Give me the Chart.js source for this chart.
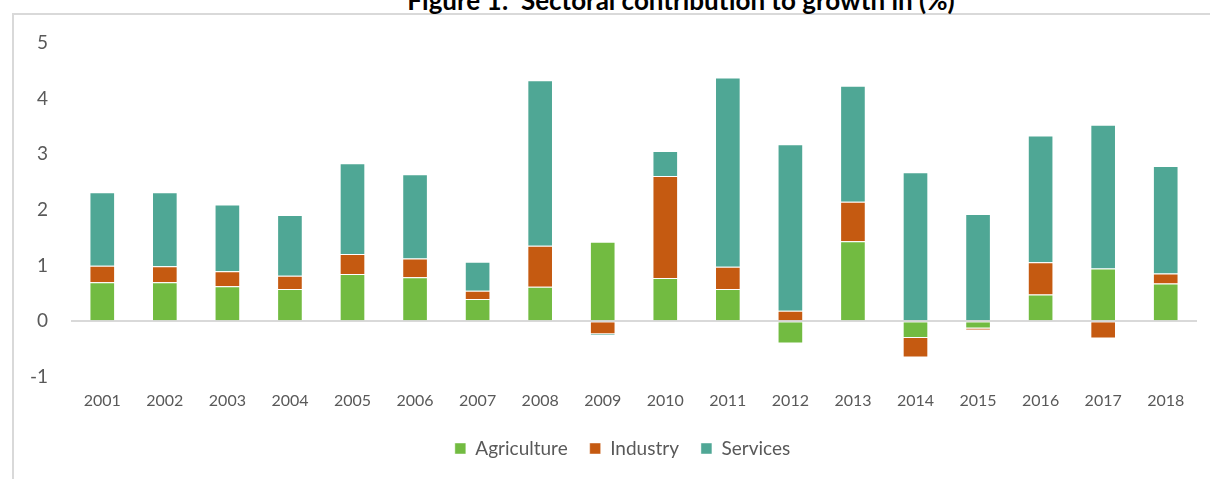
<!DOCTYPE html>
<html>
<head>
<meta charset="utf-8">
<script src="https://cdn.jsdelivr.net/npm/chart.js@4/dist/chart.umd.min.js"></script>
<style>
  html, body { margin: 0; padding: 0; background: #ffffff; }
  #wrap { position: relative; width: 1210px; height: 479px; overflow: hidden; background: #fff; }
  #frame { position: absolute; left: 12px; top: 13px; width: 1300px; height: 600px;
           border-left: 2px solid #d9d9d9; border-top: 2px solid #d9d9d9; box-sizing: border-box; }
  #title { position: absolute; left: 0; width: 1362px; top: -15px; text-align: center;
           font-family: Lato, "Open Sans", sans-serif; font-weight: bold; font-size: 26px;
           color: #000; white-space: pre; line-height: 30px; }
  #c { position: absolute; left: 0; top: 0; }
</style>
</head>
<body>
<div id="wrap">
  <div id="frame"></div>
  <div id="title">Figure 1:  Sectoral contribution to growth in (%)</div>
  <canvas id="c" width="1210" height="479"></canvas>
</div>
<script>
const years = ["2001","2002","2003","2004","2005","2006","2007","2008","2009","2010","2011","2012","2013","2014","2015","2016","2017","2018"];
const agriculture = [0.70, 0.70, 0.63, 0.58, 0.85, 0.79, 0.40, 0.62, 1.43, 0.78, 0.58, -0.40, 1.44, -0.30, -0.13, 0.48, 0.95, 0.68];
const industry    = [0.30, 0.29, 0.27, 0.24, 0.36, 0.34, 0.15, 0.74, -0.23, 1.83, 0.40, 0.19, 0.71, -0.35, -0.03, 0.58, -0.31, 0.18];
const services    = [1.32, 1.33, 1.20, 1.09, 1.63, 1.51, 0.52, 2.97, -0.03, 0.45, 3.40, 2.99, 2.08, 2.68, 1.93, 2.28, 2.58, 1.93];
const yTicks = [-1, 0, 1, 2, 3, 4, 5];

const FONT = 'Lato, "Open Sans", sans-serif';
const edge = 'rgba(255,255,255,0.45)';

const legendShift = {
  id: 'legendShift',
  afterLayout(chart) {
    if (chart.legend) { chart.legend.left += 18; chart.legend.right += 18; }
  }
};

new Chart(document.getElementById('c'), {
  type: 'bar',
  data: {
    labels: years,
    datasets: [
      { label: 'Agriculture', data: agriculture, backgroundColor: '#72bb41', borderColor: edge, borderWidth: 1 },
      { label: 'Industry',    data: industry,    backgroundColor: '#c55a11', borderColor: edge, borderWidth: 1 },
      { label: 'Services',    data: services,    backgroundColor: '#4fa795', borderColor: edge, borderWidth: 1 }
    ]
  },
  plugins: [legendShift],
  options: {
    responsive: false,
    animation: false,
    devicePixelRatio: 1,
    datasets: { bar: { categoryPercentage: 1, barPercentage: 0.41 } },
    layout: { padding: { left: 12, right: 13, top: 43, bottom: 11 } },
    plugins: {
      title: { display: false },
      tooltip: { enabled: false },
      legend: {
        position: 'bottom',
        labels: {
          font: { family: FONT, size: 19 },
          color: '#595959',
          boxWidth: 11, boxHeight: 11,
          padding: 22
        }
      }
    },
    scales: {
      x: {
        stacked: true,
        grid: { display: false },
        border: { display: false },
        afterFit: (s) => { s.height = 40; },
        ticks: { font: { family: FONT, size: 16 }, color: '#595959', padding: 6, maxRotation: 0 }
      },
      y: {
        stacked: true,
        min: -1, max: 5,
        afterBuildTicks: (s) => { s.ticks = yTicks.map(v => ({ value: v })); },
        afterFit: (s) => { s.width = 59; },
        border: { display: false },
        grid: {
          drawTicks: false,
          lineWidth: 2,
          color: (ctx) => (ctx.tick && ctx.tick.value === 0) ? '#d9d9d9' : 'rgba(0,0,0,0)'
        },
        ticks: { font: { family: FONT, size: 19 }, color: '#595959', padding: 23 }
      }
    }
  }
});
</script>
</body>
</html>
